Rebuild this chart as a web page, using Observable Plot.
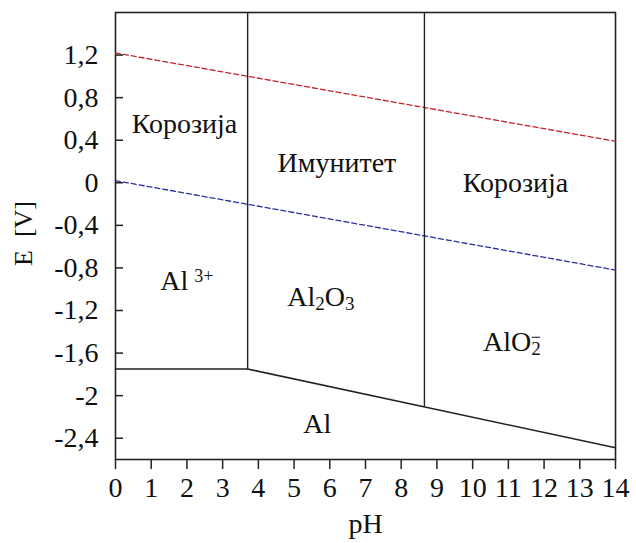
<!DOCTYPE html>
<html><head><meta charset="utf-8">
<script src="https://cdn.jsdelivr.net/npm/d3@7"></script>
<script src="https://cdn.jsdelivr.net/npm/@observablehq/plot@0.6"></script>
<style>
body{margin:0;background:#fff;}
svg, svg text, svg tspan{font-family:"Liberation Serif","Times New Roman",Times,"DejaVu Serif",serif !important;}
</style></head><body><div id="chart"></div>
<script>
// Boundary lines of the Pourbaix (E–pH) diagram for aluminium
const boundaryAl3 = [{pH:0,E:-1.75},{pH:3.7,E:-1.75}];
const boundarySloped = [{pH:3.7,E:-1.75},{pH:14,E:-2.49}];
const verticals = [
  {pH:3.7,E1:1.6,E2:-1.75},
  {pH:8.65,E1:1.6,E2:-2.105}
];
const oxygenLine = [{pH:0,E:1.22},{pH:14,E:0.39}];
const hydrogenLine = [{pH:0,E:0.02},{pH:14,E:-0.82}];
const regionLabels = [
  {pH:1.93,E:0.55,label:"Корозија"},
  {pH:6.2,E:0.19,label:"Имунитет"},
  {pH:11.2,E:0.0,label:"Корозија"},
  {pH:2.0,E:-0.92,label:"Al^{3+}"},
  {pH:5.75,E:-1.07,label:"Al_{2}O_{3}"},
  {pH:11.1,E:-1.5,label:"AlO_{2}^{−}"},
  {pH:5.65,E:-2.27,label:"Al"}
];
const yTicks = [1.2,0.8,0.4,0,-0.4,-0.8,-1.2,-1.6,-2,-2.4];
const yTickLabels = ["1,2","0,8","0,4","0","-0,4","-0,8","-1,2","-1,6","-2","-2,4"];
const xTicks = [0,1,2,3,4,5,6,7,8,9,10,11,12,13,14];
const FF = "Liberation Serif";

const plot = Plot.plot({
  width: 636,
  height: 543,
  marginLeft: 115,
  marginRight: 21,
  marginTop: 12,
  marginBottom: 84,
  style: {fontFamily: FF, fontSize: "28px", background: "#fff", color: "#111"},
  x: {domain: [0, 14]},
  y: {domain: [-2.6, 1.6]},
  marks: [
    Plot.frame({stroke: "#222", strokeWidth: 1.6}),
    Plot.line(oxygenLine, {x: "pH", y: "E", stroke: "#c0262c", strokeWidth: 1.3, strokeDasharray: "5,3"}),
    Plot.line(hydrogenLine, {x: "pH", y: "E", stroke: "#2b2fa0", strokeWidth: 1.3, strokeDasharray: "5,3"}),
    Plot.line(boundaryAl3, {x: "pH", y: "E", stroke: "#222", strokeWidth: 1.6}),
    Plot.line(boundarySloped, {x: "pH", y: "E", stroke: "#222", strokeWidth: 1.6}),
    Plot.ruleX(verticals, {x: "pH", y1: "E1", y2: "E2", stroke: "#222", strokeWidth: 1.4}),
    Plot.text(regionLabels, {x: "pH", y: "E", text: "label", fontSize: 28, fontFamily: FF, fill: "#111"}),
    // inward-pointing y ticks: zero-length rules at pH 0 extended 8px to the right
    Plot.ruleY(yTicks, {y: d => d, x1: 0, x2: 0, insetRight: -8, stroke: "#222", strokeWidth: 1.5}),
    Plot.axisY({ticks: yTicks, tickSize: 0, tickPadding: 17, fontSize: 28, fontFamily: FF, tickFormat: d => yTickLabels[yTicks.indexOf(d)], label: null}),
    Plot.axisX({ticks: xTicks, tickSize: 10, tickPadding: 8, fontSize: 28, fontFamily: FF, stroke: "#222", strokeWidth: 1.5, label: null}),
    Plot.text(["pH"], {frameAnchor: "bottom", dy: 73, fontSize: 28, fontFamily: FF, fill: "#111"}),
    Plot.text(["E  [V]"], {frameAnchor: "left", dx: -92, dy: 30, rotate: -90, fontSize: 26, fontFamily: FF, fill: "#111"})
  ]
});
document.getElementById("chart").appendChild(plot);

// Render chemical formula sub/superscripts as tspans
plot.querySelectorAll("text").forEach(t => {
  const s = t.textContent;
  if (!/[\^_]\{/.test(s)) return;
  t.textContent = "";
  const parts = s.match(/[\^_]\{[^}]*\}|[^\^_]+/g);
  let prev = null;
  parts.forEach(p => {
    const ts = document.createElementNS("http://www.w3.org/2000/svg", "tspan");
    const inner = p.slice(2, -1);
    if (p[0] === "_" && p[1] === "{") { ts.textContent = inner; ts.setAttribute("baseline-shift", "-22%"); ts.setAttribute("font-size", "19"); }
    else if (p[0] === "^" && p[1] === "{") {
      ts.textContent = inner; ts.setAttribute("baseline-shift", "45%"); ts.setAttribute("font-size", "18");
      if (inner === "3+") ts.setAttribute("dx", "6");
      if (prev === "sub") ts.setAttribute("dx", "-10");
    }
    else ts.textContent = p;
    prev = p[0] === "_" ? "sub" : "other";
    t.appendChild(ts);
  });
});
</script></body></html>
